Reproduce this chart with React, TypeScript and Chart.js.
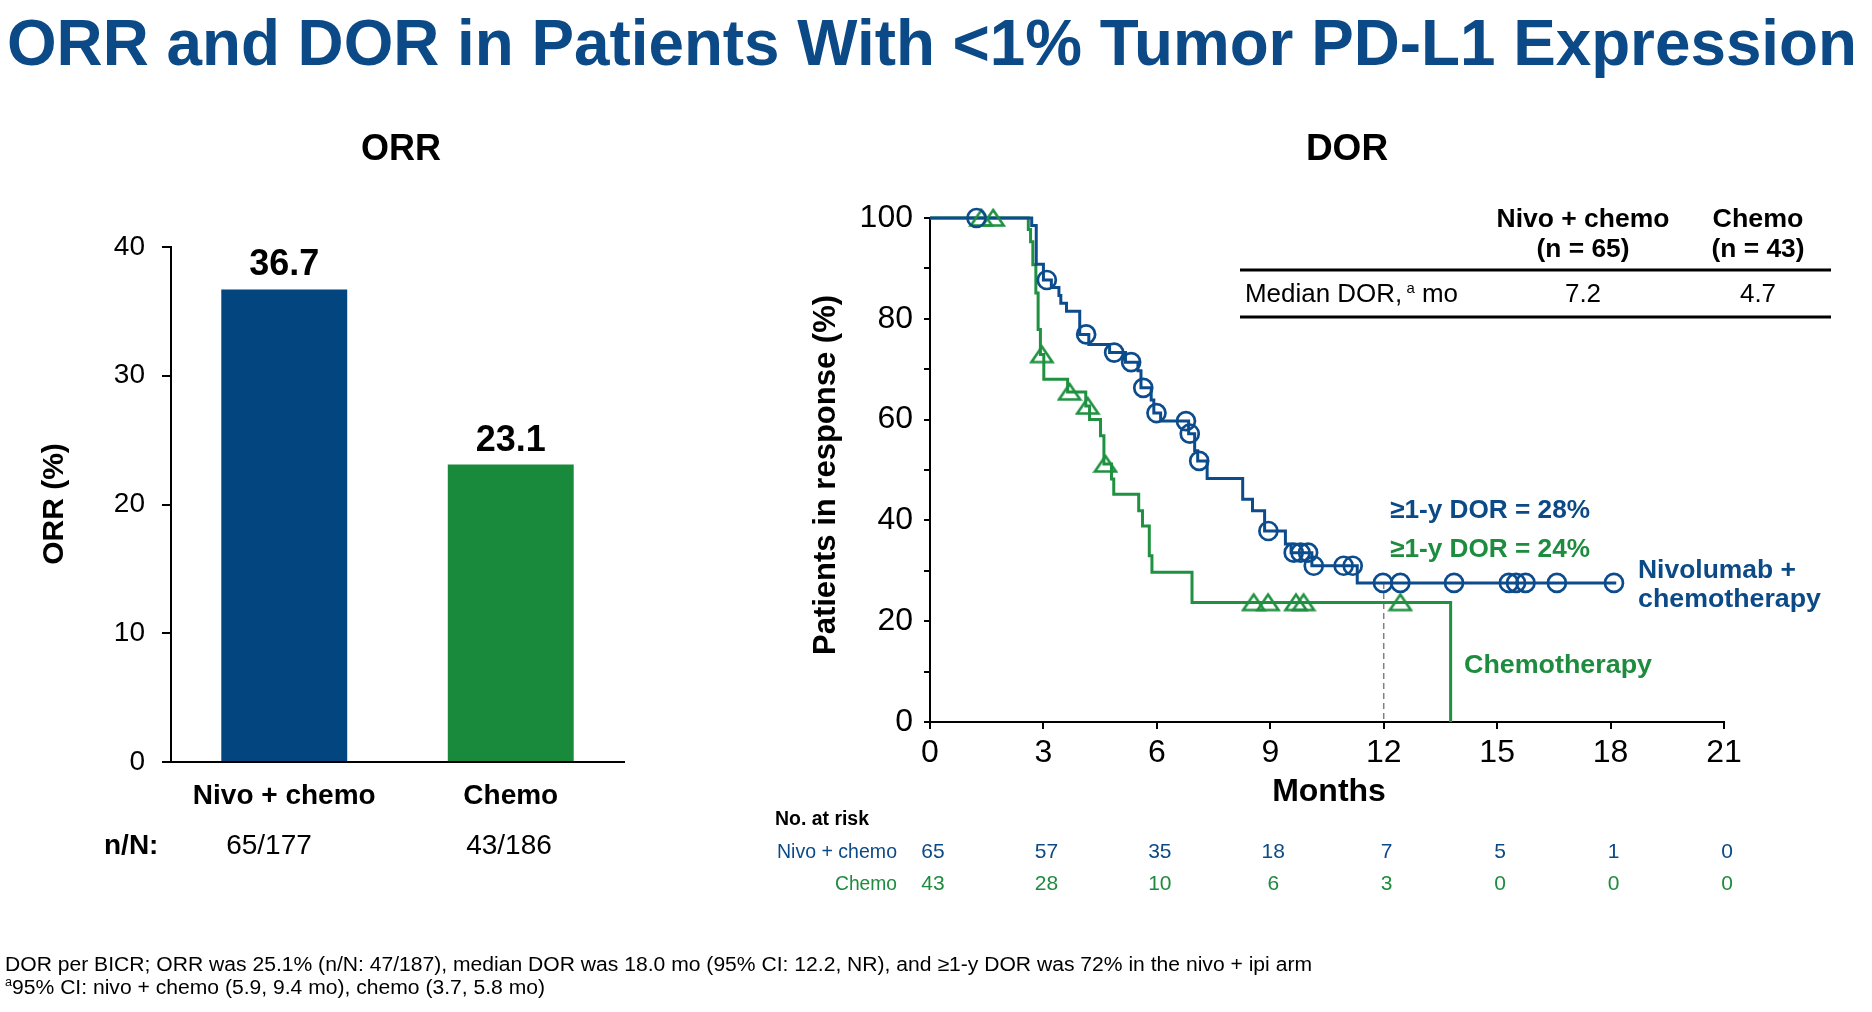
import React, { useEffect, useRef } from "react";
import { Chart, registerables } from "chart.js";
Chart.register(...registerables);

const W = 1872;
const H = 1012;
const FONT = '"Liberation Sans", Arial, Helvetica, sans-serif';

// ---------- ORR data ----------
const orrCategories = ["Nivo + chemo", "Chemo"];
const orrValues = [36.7, 23.1];
const orrCounts = ["65/177", "43/186"];

// ---------- DOR (Kaplan-Meier) data ----------
const nivoStepMonths = [0, 2.69, 2.81, 3.0, 3.21, 3.41, 3.46, 3.61, 3.96, 4.2, 4.75, 5.17, 5.5, 5.58, 5.85, 5.92, 6.1, 6.84, 7.0, 7.08, 7.33, 8.27, 8.53, 8.85, 9.4, 9.55, 10.1, 11.3, 18.15];
const nivoStepPct = [100, 98.5, 90.8, 87.7, 86.2, 84.6, 83.1, 81.5, 76.9, 74.9, 73.3, 71.4, 69.7, 66.3, 63.9, 61.3, 59.7, 57.2, 53.8, 51.8, 48.3, 44.2, 41.9, 37.9, 35.3, 33.6, 31.0, 27.6, 27.6];
const nivoCensorMonths = [1.23, 3.09, 4.13, 4.87, 5.32, 5.64, 5.99, 6.77, 6.87, 7.12, 8.95, 9.62, 9.8, 10.0, 10.15, 10.94, 11.18, 11.98, 12.44, 13.86, 15.31, 15.5, 15.75, 16.58, 18.09];
const nivoCensorPct = [100, 87.7, 76.9, 73.3, 71.4, 66.3, 61.3, 59.7, 57.2, 51.8, 37.9, 33.6, 33.6, 33.6, 31.0, 31.0, 31.0, 27.6, 27.6, 27.6, 27.6, 27.6, 27.6, 27.6, 27.6];

const chemoStepMonths = [0, 2.6, 2.66, 2.72, 2.8, 2.86, 2.92, 3.01, 3.64, 4.12, 4.22, 4.51, 4.6, 4.8, 4.86, 5.52, 5.62, 5.8, 5.87, 6.93, 13.77];
const chemoStepPct = [100, 97.7, 95.3, 90.7, 85.1, 77.9, 72.9, 68.0, 65.5, 62.7, 60.0, 56.8, 51.2, 48.2, 45.2, 41.9, 38.9, 33.0, 29.7, 23.7, 0];
const chemoCensorMonths = [1.36, 1.67, 2.96, 3.69, 4.17, 4.64, 8.56, 8.94, 9.68, 9.88, 12.44];
const chemoCensorPct = [100, 100, 72.9, 65.5, 62.7, 51.2, 23.7, 23.7, 23.7, 23.7, 23.7];

const monthTicks = [0, 3, 6, 9, 12, 15, 18, 21];
const atRiskNivo = [65, 57, 35, 18, 7, 5, 1, 0];
const atRiskChemo = [43, 28, 10, 6, 3, 0, 0, 0];

const tableHeaders = ["Nivo + chemo", "Chemo"];
const tableN = ["(n = 65)", "(n = 43)"];
const medianDOR = ["7.2", "4.7"];
const oneYearDOR = [28, 24];
const oneYearMonth = 12;
const oneYearLevel = 27.6;

// ---------- colours ----------
const TITLE_BLUE = "#0B4A87";
const BAR_BLUE = "#03457E";
const BAR_GREEN = "#198A3C";
const LINE_BLUE = "#0C4C8C";
const LINE_GREEN = "#1F9140";
const TEXT_BLUE = "#0B4A87";
const TEXT_GREEN = "#1E8C3E";

const f = (size: number, bold = false) => `${bold ? "bold " : ""}${size}px ${FONT}`;

function txt(ctx: CanvasRenderingContext2D, s: string, x: number, y: number, font: string, color: string, align: "left" | "center" | "right" = "left", width?: number) {
  ctx.save();
  ctx.font = font;
  ctx.fillStyle = color;
  ctx.textBaseline = "alphabetic";
  ctx.textAlign = "left";
  const m = ctx.measureText(s).width;
  const sx = width ? width / m : 1;
  const w = m * sx;
  let left = x;
  if (align === "center") left = x - w / 2;
  else if (align === "right") left = x - w;
  ctx.translate(left, y);
  ctx.scale(sx, 1);
  ctx.fillText(s, 0, 0);
  ctx.restore();
}

function runs(ctx: CanvasRenderingContext2D, parts: { s: string; font: string; dy?: number }[], x: number, y: number, color: string, width?: number) {
  ctx.save();
  ctx.fillStyle = color;
  ctx.textBaseline = "alphabetic";
  ctx.textAlign = "left";
  let total = 0;
  for (const p of parts) { ctx.font = p.font; total += ctx.measureText(p.s).width; }
  const sx = width ? width / total : 1;
  ctx.translate(x, y);
  ctx.scale(sx, 1);
  let cx = 0;
  for (const p of parts) {
    ctx.font = p.font;
    ctx.fillText(p.s, cx, p.dy || 0);
    cx += ctx.measureText(p.s).width;
  }
  ctx.restore();
}

function rot(ctx: CanvasRenderingContext2D, s: string, cx: number, cy: number, font: string, color: string) {
  ctx.save();
  ctx.translate(cx, cy);
  ctx.rotate(-Math.PI / 2);
  ctx.font = font;
  ctx.fillStyle = color;
  ctx.textAlign = "center";
  ctx.textBaseline = "middle";
  ctx.fillText(s, 0, 0);
  ctx.restore();
}

function makeTriangle(color: string): HTMLCanvasElement {
  const c = document.createElement("canvas");
  c.width = 26;
  c.height = 22;
  const ctx = c.getContext("2d") as CanvasRenderingContext2D;
  ctx.strokeStyle = color;
  ctx.lineWidth = 2.6;
  ctx.lineJoin = "miter";
  ctx.beginPath();
  ctx.moveTo(13, 3);
  ctx.lineTo(23.5, 18.5);
  ctx.lineTo(2.5, 18.5);
  ctx.closePath();
  ctx.stroke();
  return c;
}

const bgPlugin = {
  id: "bg",
  beforeDraw(chart: any) {
    const ctx = chart.ctx;
    ctx.save();
    ctx.fillStyle = "#fff";
    ctx.fillRect(0, 0, chart.width, chart.height);
    ctx.restore();
  },
};

const barTextPlugin = {
  id: "barText",
  afterDraw(chart: any) {
    const ctx: CanvasRenderingContext2D = chart.ctx;
    txt(ctx, "ORR and DOR in Patients With <1% Tumor PD-L1 Expression", 7, 65, f(65, true), TITLE_BLUE, "left", 1850);
    txt(ctx, "ORR", 401, 160, f(36, true), "#000", "center");
    const meta = chart.getDatasetMeta(0);
    meta.data.forEach((bar: any, i: number) => {
      txt(ctx, orrValues[i].toFixed(1), bar.x, bar.y - 14, f(36, true), "#000", "center");
    });
    rot(ctx, "ORR (%)", 55, 504, f(30, true), "#000");
    txt(ctx, "n/N:", 104, 854, f(28, true), "#000", "left");
    const countX = [269, 509];
    orrCounts.forEach((c, i) => txt(ctx, c, countX[i], 854, f(28), "#000", "center"));
    txt(ctx, "DOR per BICR; ORR was 25.1% (n/N: 47/187), median DOR was 18.0 mo (95% CI: 12.2, NR), and \u22651-y DOR was 72% in the nivo + ipi arm", 5, 971, f(20), "#000", "left", 1307);
    runs(ctx, [
      { s: "a", font: f(12), dy: -8 },
      { s: "95% CI: nivo + chemo (5.9, 9.4 mo), chemo (3.7, 5.8 mo)", font: f(20) },
    ], 5, 994, "#000", 540);
  },
};

const kmTextPlugin = {
  id: "kmText",
  beforeDatasetsDraw(chart: any) {
    const ctx: CanvasRenderingContext2D = chart.ctx;
    const xs = chart.scales.x;
    const ys = chart.scales.y;
    ctx.save();
    ctx.strokeStyle = "#808080";
    ctx.lineWidth = 1.5;
    ctx.setLineDash([6, 4]);
    ctx.beginPath();
    const px = xs.getPixelForValue(oneYearMonth);
    ctx.moveTo(px, ys.getPixelForValue(oneYearLevel));
    ctx.lineTo(px, ys.getPixelForValue(0));
    ctx.stroke();
    ctx.restore();
  },
  afterDraw(chart: any) {
    const ctx: CanvasRenderingContext2D = chart.ctx;
    const xs = chart.scales.x;
    txt(ctx, "DOR", 1347, 160, f(37, true), "#000", "center");
    rot(ctx, "Patients in response (%)", 826, 475, f(31, true), "#000");
    txt(ctx, "Months", 1329, 801, f(32, true), "#000", "center");

    // table
    const colX = [1583, 1758];
    txt(ctx, tableHeaders[0], colX[0], 227, f(26, true), "#000", "center", 173);
    txt(ctx, tableHeaders[1], colX[1], 227, f(26, true), "#000", "center", 91);
    txt(ctx, tableN[0], colX[0], 257, f(26, true), "#000", "center", 93);
    txt(ctx, tableN[1], colX[1], 257, f(26, true), "#000", "center", 93);
    ctx.save();
    ctx.strokeStyle = "#000";
    ctx.lineWidth = 3;
    ctx.beginPath();
    ctx.moveTo(1240, 270); ctx.lineTo(1831, 270);
    ctx.moveTo(1240, 317); ctx.lineTo(1831, 317);
    ctx.stroke();
    ctx.restore();
    runs(ctx, [
      { s: "Median DOR,", font: f(26) },
      { s: " a", font: f(15), dy: -9 },
      { s: " mo", font: f(26) },
    ], 1245, 302, "#000", 213);
    medianDOR.forEach((v, i) => txt(ctx, v, colX[i], 302, f(26), "#000", "center"));

    // annotations
    txt(ctx, `\u22651-y DOR = ${oneYearDOR[0]}%`, 1390, 518, f(26, true), TEXT_BLUE, "left", 200);
    txt(ctx, `\u22651-y DOR = ${oneYearDOR[1]}%`, 1390, 557, f(26, true), TEXT_GREEN, "left", 200);
    txt(ctx, "Nivolumab +", 1638, 578, f(26, true), TEXT_BLUE, "left", 158);
    txt(ctx, "chemotherapy", 1638, 607, f(26, true), TEXT_BLUE, "left", 183);
    txt(ctx, "Chemotherapy", 1464, 673, f(26, true), TEXT_GREEN, "left", 188);

    // number at risk
    txt(ctx, "No. at risk", 775, 825, f(20, true), "#000", "left", 94);
    txt(ctx, "Nivo + chemo", 897, 858, f(20), TEXT_BLUE, "right", 120);
    txt(ctx, "Chemo", 897, 890, f(20), TEXT_GREEN, "right", 62);
    monthTicks.forEach((m, i) => {
      const px = xs.getPixelForValue(m);
      txt(ctx, String(atRiskNivo[i]), px + 3, 858, f(21), TEXT_BLUE, "center");
      txt(ctx, String(atRiskChemo[i]), px + 3, 890, f(21), TEXT_GREEN, "center");
    });
  },
};

export default function App() {
  const barRef = useRef<HTMLCanvasElement>(null);
  const kmRef = useRef<HTMLCanvasElement>(null);

  useEffect(() => {
    document.body.style.margin = "0";
    document.body.style.overflow = "hidden";
    Chart.defaults.font.family = FONT;
    const triangle = makeTriangle(LINE_GREEN);

    const barChart = new Chart(barRef.current as HTMLCanvasElement, {
      type: "bar",
      data: {
        labels: orrCategories,
        datasets: [{
          data: orrValues,
          backgroundColor: [BAR_BLUE, BAR_GREEN],
          borderWidth: 0,
          barPercentage: 0.556,
          categoryPercentage: 1,
        }],
      },
      options: {
        responsive: false,
        animation: false,
        devicePixelRatio: 1,
        layout: { padding: { left: 0, top: 247, right: W - 624, bottom: H - 762 - 60 } },
        plugins: { legend: { display: false }, tooltip: { enabled: false }, title: { display: false } },
        scales: {
          x: {
            grid: { display: false, drawTicks: false },
            border: { display: true, color: "#000", width: 2 },
            ticks: { color: "#000", font: { size: 28, weight: "bold", family: FONT }, padding: 17 },
            afterFit: (s: any) => { s.height = 60; },
          },
          y: {
            min: 0,
            max: 40,
            ticks: { stepSize: 10, color: "#000", font: { size: 28, family: FONT }, padding: 17 },
            grid: { drawOnChartArea: false, drawTicks: true, tickLength: 9, color: "#000", lineWidth: 2 },
            border: { display: true, color: "#000", width: 2 },
            afterFit: (s: any) => { s.width = 171; },
          },
        },
      } as any,
      plugins: [bgPlugin, barTextPlugin],
    });

    const kmChart = new Chart(kmRef.current as HTMLCanvasElement, {
      type: "line",
      data: {
        datasets: [
          {
            data: nivoCensorMonths.map((m, i) => ({ x: m, y: nivoCensorPct[i] })),
            showLine: false,
            pointStyle: "circle",
            pointRadius: 9,
            pointBorderWidth: 2.7,
            pointBorderColor: LINE_BLUE,
            pointBackgroundColor: "rgba(0,0,0,0)",
            clip: false,
            order: 1,
          },
          {
            data: chemoCensorMonths.map((m, i) => ({ x: m, y: chemoCensorPct[i] })),
            showLine: false,
            pointStyle: triangle,
            pointRadius: 11,
            pointBorderWidth: 2.6,
            pointBorderColor: LINE_GREEN,
            pointBackgroundColor: "rgba(0,0,0,0)",
            clip: false,
            order: 2,
          },
          {
            data: nivoStepMonths.map((m, i) => ({ x: m, y: nivoStepPct[i] })),
            stepped: "before",
            borderColor: LINE_BLUE,
            borderWidth: 3,
            pointRadius: 0,
            fill: false,
            clip: false,
            order: 3,
          },
          {
            data: chemoStepMonths.map((m, i) => ({ x: m, y: chemoStepPct[i] })),
            stepped: "before",
            borderColor: LINE_GREEN,
            borderWidth: 3,
            pointRadius: 0,
            fill: false,
            clip: false,
            order: 4,
          },
        ],
      },
      options: {
        responsive: false,
        animation: false,
        devicePixelRatio: 1,
        layout: { padding: { left: 800, top: 218, right: W - 1724, bottom: H - 722 - 60 } },
        plugins: { legend: { display: false }, tooltip: { enabled: false }, title: { display: false } },
        scales: {
          x: {
            type: "linear",
            min: 0,
            max: 21,
            ticks: { stepSize: 3, autoSkip: false, maxRotation: 0, color: "#000", font: { size: 32, family: FONT }, padding: 5 },
            grid: { drawOnChartArea: false, drawTicks: true, tickLength: 7, color: "#000", lineWidth: 2 },
            border: { display: true, color: "#000", width: 2 },
            afterFit: (s: any) => { s.height = 60; },
          },
          y: {
            min: 0,
            max: 100,
            ticks: {
              stepSize: 10,
              autoSkip: false,
              color: "#000",
              font: { size: 32, family: FONT },
              padding: 11,
              callback: (v: any) => (Number(v) % 20 === 0 ? String(v) : ""),
            },
            grid: { drawOnChartArea: false, drawTicks: true, tickLength: 6, color: "#000", lineWidth: 2 },
            border: { display: true, color: "#000", width: 2 },
            afterFit: (s: any) => { s.width = 130; },
          },
        },
      } as any,
      plugins: [kmTextPlugin],
    });

    return () => {
      barChart.destroy();
      kmChart.destroy();
    };
  }, []);

  return (
    <div style={{ position: "relative", width: W, height: H, background: "#fff", overflow: "hidden" }}>
      <canvas ref={barRef} width={W} height={H} style={{ position: "absolute", left: 0, top: 0, width: W, height: H }} />
      <canvas ref={kmRef} width={W} height={H} style={{ position: "absolute", left: 0, top: 0, width: W, height: H }} />
    </div>
  );
}
